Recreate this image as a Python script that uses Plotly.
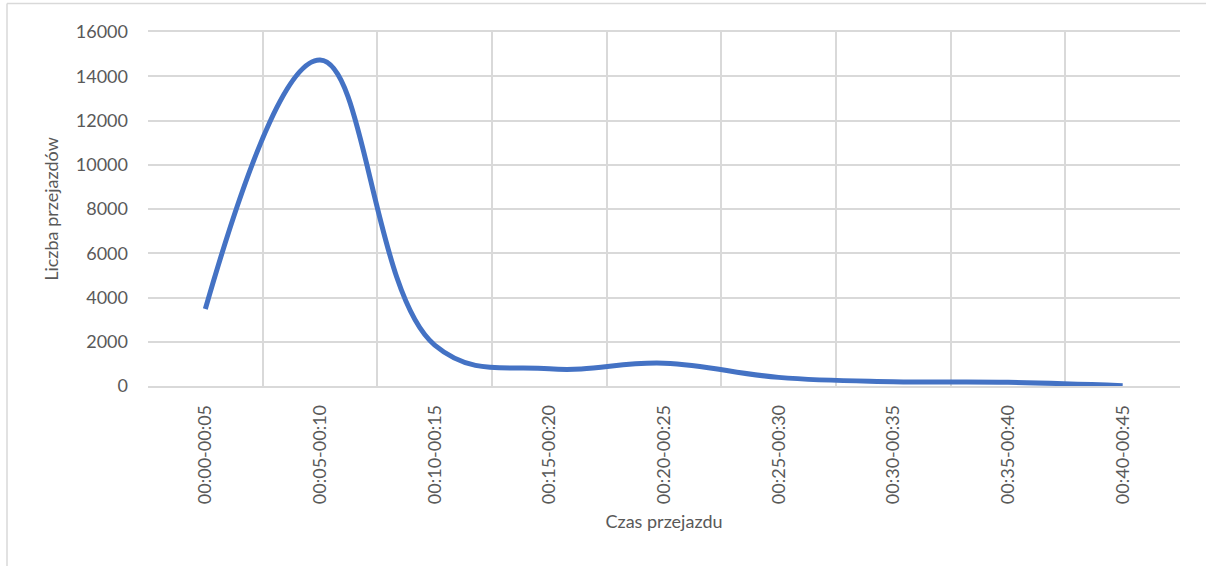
import plotly.graph_objects as go

# Ride-duration buckets and number of rides in each
przedzialy = [
    "00:00-00:05", "00:05-00:10", "00:10-00:15", "00:15-00:20", "00:20-00:25",
    "00:25-00:30", "00:30-00:35", "00:35-00:40", "00:40-00:45",
]
liczba_przejazdow = [3480, 14730, 1850, 780, 1030, 390, 195, 165, 15]

y_ticks = [0, 2000, 4000, 6000, 8000, 10000, 12000, 14000, 16000]

W, H = 1206, 566
L, R, T, B = 148, 26, 32, 180
pw, ph = W - L - R, H - T - B

grid = "#d9d9d9"
txt = "#595959"
font_family = "Lato, Carlito, 'Open Sans', sans-serif"
fs = 18

fig = go.Figure(
    go.Scatter(
        x=przedzialy,
        y=liczba_przejazdow,
        mode="lines",
        line=dict(color="#4472C4", width=5, shape="spline", smoothing=1.15),
        hoverinfo="x+y",
    )
)

fig.update_layout(
    width=W,
    height=H,
    margin=dict(l=L, r=R, t=T, b=B, pad=0),
    paper_bgcolor="white",
    plot_bgcolor="white",
    showlegend=False,
    font=dict(family=font_family, size=fs, color=txt),
    xaxis=dict(
        type="category",
        categoryorder="array",
        categoryarray=przedzialy,
        range=[-0.5, len(przedzialy) - 0.5],
        tickson="boundaries",
        showgrid=True,
        gridcolor=grid,
        gridwidth=1.5,
        showline=True,
        linecolor=grid,
        linewidth=1.5,
        mirror=True,
        ticks="",
        tickangle=-90,
        ticklabelstandoff=10,
        tickfont=dict(size=fs, color=txt),
        title=dict(text="Czas przejazdu", font=dict(size=fs, color=txt), standoff=12),
        zeroline=False,
    ),
    yaxis=dict(
        range=[0, 16000],
        tickvals=y_ticks,
        ticktext=[str(v) for v in y_ticks],
        showgrid=True,
        gridcolor=grid,
        gridwidth=1.5,
        showline=False,
        ticks="",
        ticklabelstandoff=19,
        tickfont=dict(size=fs, color=txt),
        title=dict(text="Liczba przejazdów", font=dict(size=fs, color=txt), standoff=12),
        zeroline=False,
    ),
)

# Chart-area frame (top and left edges)
fig.add_shape(
    type="line", xref="paper", yref="paper",
    x0=(7 - L) / pw, x1=(W - L) / pw + 0.01,
    y0=(H - B - 3.5) / ph, y1=(H - B - 3.5) / ph,
    line=dict(color=grid, width=1.5),
)
fig.add_shape(
    type="line", xref="paper", yref="paper",
    x0=(7 - L) / pw, x1=(7 - L) / pw,
    y0=(H - B - 3.5) / ph, y1=-(B + 5) / ph,
    line=dict(color=grid, width=1.5),
)

fig.write_html("out.html")
